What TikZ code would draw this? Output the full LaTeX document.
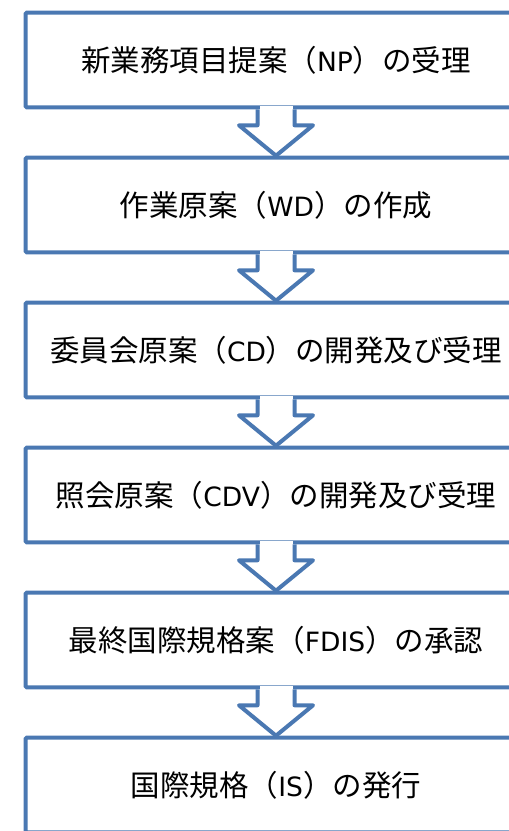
\documentclass[tikz,border=0pt]{standalone}
\usepackage{fontspec}
\newfontfamily\jp{Noto Sans CJK JP}
\newfontfamily\latfont[Scale=0.9]{DejaVu Sans}
\newcommand{\lat}[1]{{\latfont #1}}
\usetikzlibrary{calc}
\definecolor{flowblue}{RGB}{74,120,178}
\tikzset{
  stage/.style={draw=flowblue, line width=4pt, fill=white, rectangle,
    minimum width=500.6pt, minimum height=94.6pt, inner sep=0pt,
    font=\jp\fontsize{29.5}{34}\selectfont, text=black, rounded corners=1pt},
  flowarrow/.style={draw=flowblue, line width=4pt, fill=white, line join=round}
}
\begin{document}
\begin{tikzpicture}[x=1pt,y=-1pt]
\useasboundingbox (0,0) rectangle (509,831);
\clip (0,0) rectangle (509,831);
\foreach \i/\t in {1/{新業務項目提案（\lat{NP}）の受理},2/{作業原案（\lat{WD}）の作成},3/{委員会原案（\lat{CD}）の開発及び受理},4/{照会原案（\lat{CDV}）の開発及び受理},5/{最終国際規格案（\lat{FDIS}）の承認},6/{国際規格（\lat{IS}）の発行}}{
  \node[stage] (b\i) at (276, {60+145*(\i-1)}) {\t};
}
\foreach \i [evaluate=\i as \j using int(\i+1)] in {1,...,5}{
  \fill[white] ($(b\i.south)+(-16.5,-3)$) rectangle ($(b\i.south)+(16.5,3)$);
  \draw[flowarrow] ($(b\i.south)+(-18.5,0)$) -- ($(b\i.south)+(-18.5,16)$)
    -- ($(b\i.south)+(-37,16)$) -- (b\j.north) -- ($(b\i.south)+(37,16)$)
    -- ($(b\i.south)+(18.5,16)$) -- ($(b\i.south)+(18.5,0)$);
}
\end{tikzpicture}
\end{document}
